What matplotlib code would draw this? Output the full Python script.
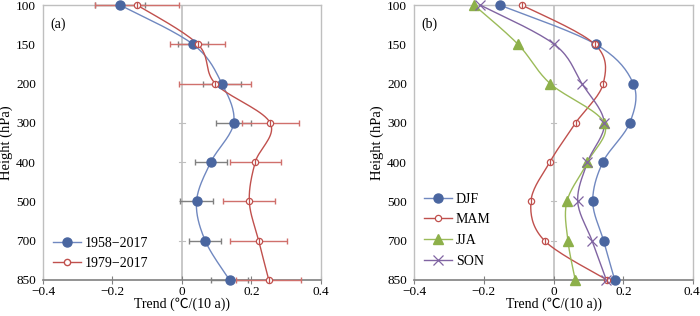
import numpy as np
import matplotlib
matplotlib.use('Agg')
from matplotlib import pyplot as plt
from matplotlib.transforms import ScaledTranslation

plt.rcParams['font.family'] = ['Liberation Serif', 'Noto Sans CJK SC', 'DejaVu Sans']

levels = ['100', '150', '200', '300', '400', '500', '700', '850']

# panel (a): annual trends and their error bars
trend_5817 = [-0.178, 0.032, 0.115, 0.149, 0.083, 0.042, 0.067, 0.137]
err_5817 = [0.072, 0.043, 0.054, 0.050, 0.046, 0.047, 0.046, 0.054]
trend_7917 = [-0.129, 0.046, 0.096, 0.254, 0.211, 0.194, 0.221, 0.250]
err_7917 = [0.122, 0.079, 0.103, 0.082, 0.073, 0.075, 0.082, 0.093]

# panel (b): seasonal trends
djf = [-0.154, 0.121, 0.228, 0.218, 0.141, 0.112, 0.143, 0.175]
mam = [-0.091, 0.118, 0.142, 0.063, -0.011, -0.065, -0.026, 0.153]
jja = [-0.228, -0.102, -0.010, 0.145, 0.097, 0.038, 0.041, 0.062]
son = [-0.210, 0.002, 0.081, 0.145, 0.097, 0.069, 0.110, 0.151]

BLUE = '#4A66A0'
BLUE_L = '#7088C0'
RED = '#C0504D'
GREEN = '#8DB04A'
GREEN_L = '#9BBB59'
PURPLE = '#8064A2'
GRID = '#BFBFBF'
FS = 9.5


def smooth(vals, xs_per_unit=347.0, px_per_level=39.3, n=20):
    # Excel-like smoothed line: cubic bezier with Catmull-Rom control points
    x = np.asarray(vals) * xs_per_unit
    y = np.arange(len(vals)) * px_per_level
    P = np.column_stack([x, y])
    out = []
    for i in range(len(P) - 1):
        p0 = P[i - 1] if i > 0 else P[i]
        p1, p2 = P[i], P[i + 1]
        p3 = P[i + 2] if i + 2 < len(P) else P[i + 1]
        c1 = p1 + (p2 - p0) / 6.0
        c2 = p2 - (p3 - p1) / 6.0
        t = np.linspace(0, 1, n)[:, None]
        seg = ((1 - t) ** 3) * p1 + 3 * ((1 - t) ** 2) * t * c1 + 3 * (1 - t) * t ** 2 * c2 + t ** 3 * p2
        out.append(seg if i == 0 else seg[1:])
    out = np.vstack(out)
    return out[:, 0] / xs_per_unit, out[:, 1] / px_per_level


def style_axes(ax, tag):
    ax.set_xlim(-0.4, 0.4)
    ax.set_ylim(len(levels) - 1, 0)
    ax.set_xticks([-0.4, -0.2, 0, 0.2, 0.4])
    ax.set_xticklabels(['\u22120.4', '\u22120.2', '0', '0.2', '0.4'], fontsize=FS)
    ax.set_yticks(range(len(levels)))
    ax.set_yticklabels(levels, fontsize=FS)
    ax.tick_params(axis='y', length=0, pad=5)
    ax.tick_params(axis='x', direction='inout', length=6, color='#808080', pad=1)
    for s in ['top', 'left', 'right']:
        ax.spines[s].set_color(GRID)
        ax.spines[s].set_linewidth(1.0)
    ax.spines['bottom'].set_color('#808080')
    ax.spines['bottom'].set_linewidth(1.2)
    ax.axvline(0, color=GRID, lw=1.2, zorder=1)
    # tick marks on the zero line
    for k in range(1, len(levels)):
        ax.plot([-0.008, 0.008], [k, k], color=GRID, lw=0.8, zorder=1)
    ax.set_xlabel('Trend (\u2103/(10 a))', fontsize=10, labelpad=0)
    ax.set_ylabel('Height (hPa)', fontsize=10.5, labelpad=2)
    ax.text(0.025, 0.955, tag, transform=ax.transAxes, fontsize=FS + 0.5, va='top')


fig = plt.figure(figsize=(7, 3.16), dpi=100)
ax1 = fig.add_axes([0.0614, 0.114, 0.397, 0.870])
ax2 = fig.add_axes([0.5914, 0.114, 0.399, 0.870])

yk = np.arange(len(levels))

# ---- panel (a)
style_axes(ax1, '(a)')
ax1.errorbar(trend_5817, yk, xerr=err_5817, fmt='none', ecolor='#808080', elinewidth=1.0,
             capsize=2.5, capthick=1.0, zorder=3, clip_on=False)
ax1.errorbar(trend_7917, yk, xerr=err_7917, fmt='none', ecolor='#D0706C', elinewidth=1.0,
             capsize=2.5, capthick=1.0, zorder=3, clip_on=False)
sx, sy = smooth(trend_5817)
ax1.plot(sx, sy, color=BLUE_L, lw=1.0, zorder=4, clip_on=False)
sx, sy = smooth(trend_7917)
ax1.plot(sx, sy, color=RED, lw=1.0, zorder=4, clip_on=False)
ax1.plot(trend_5817, yk, 'o', ms=6.5, color=BLUE, zorder=5, clip_on=False)
ax1.plot(trend_7917, yk, 'o', ms=4.5, mfc='white', mec=RED, mew=0.9, zorder=5, clip_on=False)
ax1.plot(trend_7917, yk, '|', ms=4.5, mec=RED, mew=0.9, zorder=6, clip_on=False)

h1, = ax1.plot([], [], '-o', color=BLUE_L, mfc=BLUE, mec=BLUE, ms=6.5, lw=1.0, label='1958\u22122017')
h2, = ax1.plot([], [], '-o', color=RED, mfc='white', mec=RED, ms=4.5, lw=1.0, label='1979\u22122017')
ax1.legend(handles=[h1, h2], loc='lower left', bbox_to_anchor=(0.036, 0.035), frameon=False,
           borderaxespad=0, borderpad=0, fontsize=10, handlelength=2.0,
           labelspacing=0.55, handletextpad=0.3)

# ---- panel (b)
style_axes(ax2, '(b)')
series = [
    (djf, 'DJF', BLUE_L, dict(marker='o', ms=6.5, mfc=BLUE, mec=BLUE)),
    (mam, 'MAM', RED, dict(marker='o', ms=4.5, mfc='white', mec=RED, mew=0.9)),
    (jja, 'JJA', GREEN_L, dict(marker='^', ms=7.5, mfc=GREEN, mec=GREEN)),
    (son, 'SON', PURPLE, dict(marker='x', ms=7.5, mec=PURPLE, mew=0.9)),
]
handles = []
for vals, name, lc, mk in series:
    sx, sy = smooth(vals)
    ax2.plot(sx, sy, color=lc, lw=1.0, zorder=4, clip_on=False)
    ax2.plot(vals, yk, ls='none', zorder=5, clip_on=False, **mk)
    h, = ax2.plot([], [], color=lc, lw=1.0, label=name, **mk)
    handles.append(h)
ax2.plot(mam, yk, '|', ms=4.5, mec=RED, mew=0.9, zorder=6, clip_on=False)
ax2.legend(handles=handles, loc='lower left', bbox_to_anchor=(0.036, 0.045), frameon=False,
           borderaxespad=0, borderpad=0, fontsize=10, handlelength=2.0,
           labelspacing=0.55, handletextpad=0.3)

# keep the last tick label of panel (b) inside the figure
last = ax2.get_xticklabels()[-1]
last.set_horizontalalignment('right')
last.set_transform(last.get_transform() + ScaledTranslation(5 / 72, 0, fig.dpi_scale_trans))

fig.savefig('out.png', dpi=100)
